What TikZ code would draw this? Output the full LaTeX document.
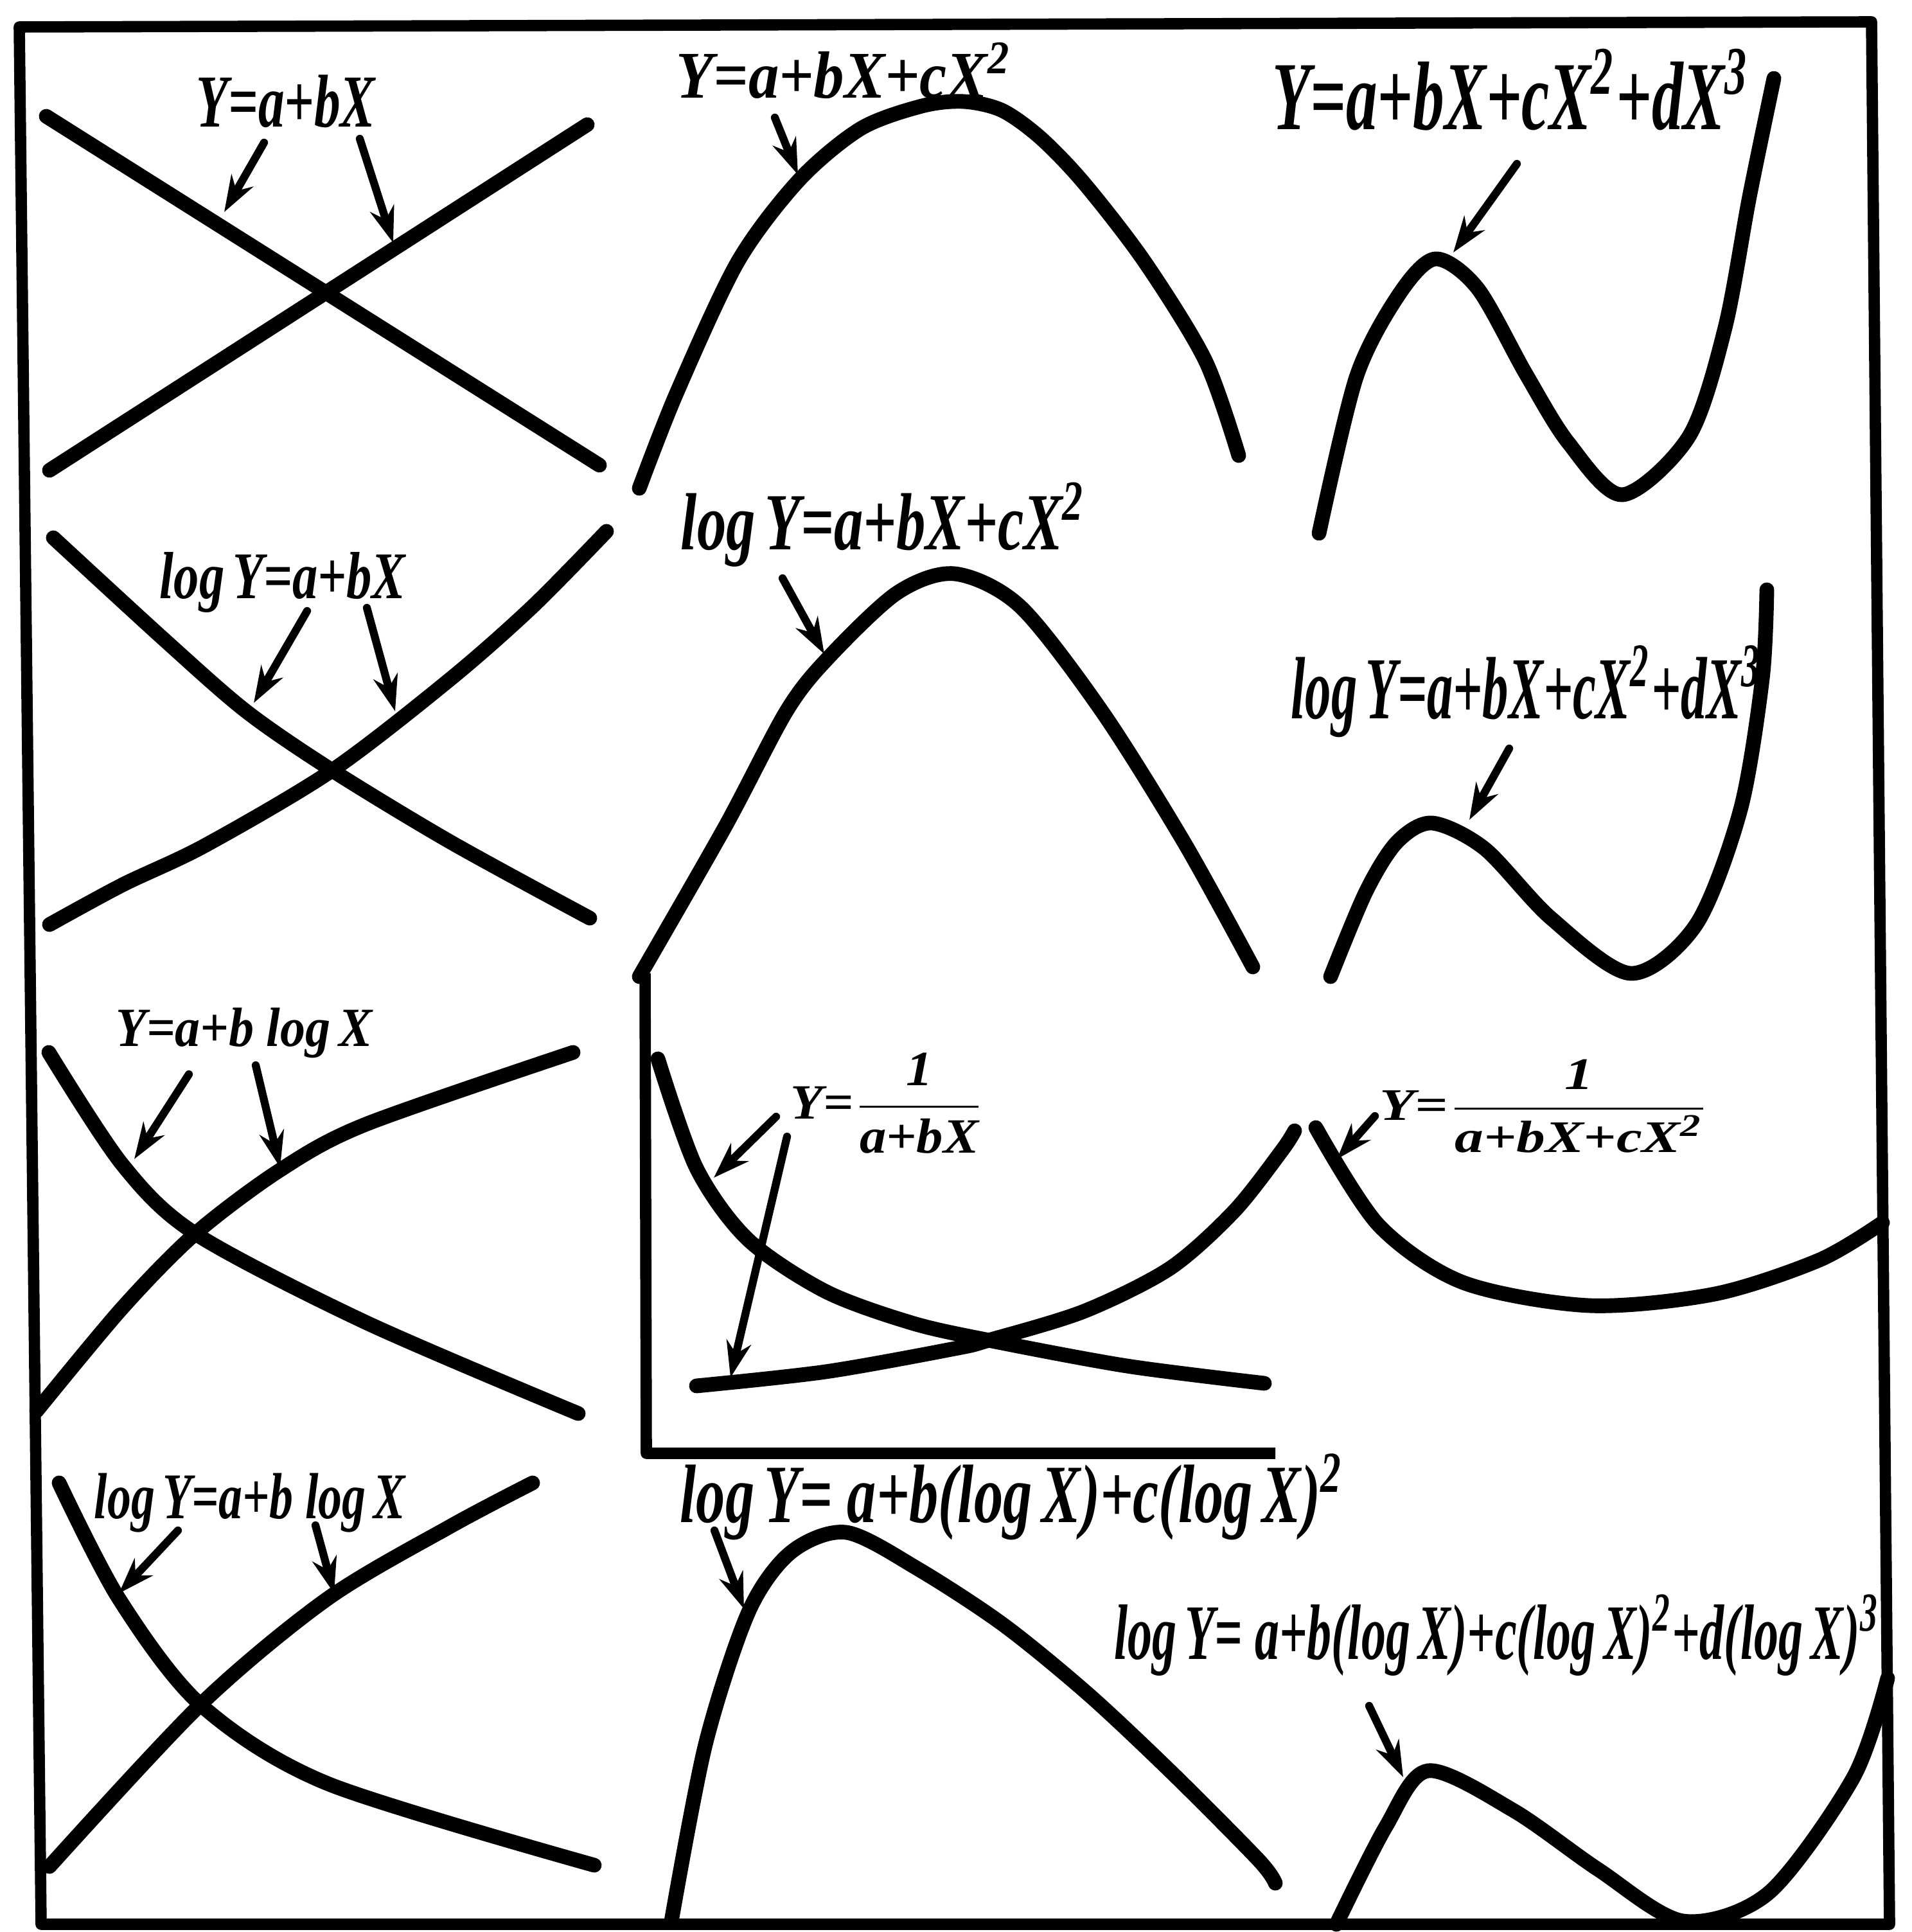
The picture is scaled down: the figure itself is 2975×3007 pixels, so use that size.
\documentclass[tikz,border=0pt]{standalone}
\usepackage{amsmath}
\usepackage{fontspec}
\usepackage{tikz}
\usetikzlibrary{arrows.meta}

\newfontfamily\eqfont{Liberation Serif}
% equation label squeezed to the box it fills in the plate
\newcommand{\eqbox}[3]{\resizebox*{#1}{#2}{\eqfont\bfseries\itshape #3}}
\newcommand{\sq}{\textsuperscript{2}}
\newcommand{\cb}{\textsuperscript{3}}

\begin{document}
\begin{tikzpicture}[
  x=0.01cm, y=-0.01cm,
  frm/.style={line width=5pt, line join=round},
  crv/.style={line width=6.5pt, line cap=round},
  ptr/.style={line width=3.5pt, line cap=round, -{Stealth[length=16pt,width=11pt]}},
  eql/.style={inner sep=0pt, anchor=center},
]
  \useasboundingbox (0,0) rectangle (2975,3007);

  %% plate border and the small axis box of the reciprocal panel
  \draw[frm] (30,42) -- (2913,34) -- (2941,2995) -- (64,2995) -- cycle;
  \draw[frm] (1004,1515) -- (1006,2262) -- (1985,2262);

  %% row 1
  \node[eql] (lin) at (445,158) {\eqbox{2.78cm}{0.82cm}{Y=a+bX}};
  \draw[crv] (72,181) -- (933,724);
  \draw[crv] (77,732) -- (914,194);
  \coordinate (lin_t1) at (411,222);  \coordinate (lin_h1) at (349,330);
  \coordinate (lin_t2) at (560,216);  \coordinate (lin_h2) at (612,378);
  \draw[ptr] (lin_t1) -- (lin_h1);
  \draw[ptr] (lin_t2) -- (lin_h2);

  \node[eql] (quad) at (1314,110) {\eqbox{5.22cm}{0.87cm}{Y=a+bX+cX\sq}};
  \draw[crv] plot[smooth] coordinates {(995,760) (1053,612) (1148,408)
    (1244,280) (1340,200) (1435,165) (1500,158) (1560,172) (1620,215)
    (1688,286) (1782,408) (1876,561) (1928,709)};
  \coordinate (quad_t) at (1206,183);  \coordinate (quad_h) at (1242,272);
  \draw[ptr] (quad_t) -- (quad_h);

  \node[eql] (cub) at (2352,140) {\eqbox{7.43cm}{1.27cm}{Y=a+bX+cX\sq+dX\cb}};
  \draw[crv] plot[smooth] coordinates {(2053,830) (2111,587) (2177,459)
    (2234,403) (2300,449) (2375,582) (2441,689) (2525,770) (2629,679)
    (2685,510) (2723,306) (2761,122)};
  \coordinate (cub_t) at (2361,255);  \coordinate (cub_h) at (2262,393);
  \draw[ptr] (cub_t) -- (cub_h);

  %% row 2
  \node[eql] (elin) at (440,907) {\eqbox{3.82cm}{0.94cm}{log\,Y=a+bX}};
  \draw[crv] plot[smooth] coordinates {(83,837) (255,995) (383,1107)
    (517,1199) (702,1311) (918,1429)};
  \draw[crv] plot[smooth] coordinates {(77,1439) (191,1377) (319,1316)
    (517,1199) (702,1056) (829,944) (944,827)};
  \coordinate (elin_t1) at (478,951);  \coordinate (elin_h1) at (395,1094);
  \coordinate (elin_t2) at (571,946);  \coordinate (elin_h2) at (615,1107);
  \draw[ptr] (elin_t1) -- (elin_h1);
  \draw[ptr] (elin_t2) -- (elin_h2);

  \node[eql] (equad) at (1375,817) {\eqbox{6.30cm}{1.31cm}{log\,Y=a+bX+cX\sq}};
  \draw[crv] plot[smooth] coordinates {(995,1520) (1129,1286) (1224,1107)
    (1288,1025) (1396,923) (1486,893) (1588,944) (1715,1107) (1843,1311)
    (1950,1505)};
  \coordinate (equad_t) at (1218,900);  \coordinate (equad_h) at (1283,1018);
  \draw[ptr] (equad_t) -- (equad_h);

  \node[eql] (ecub) at (2376,1076) {\eqbox{7.33cm}{1.43cm}{log\,Y=a+bX+cX\sq+dX\cb}};
  \draw[crv] plot[smooth] coordinates {(2071,1520) (2126,1388) (2174,1311)
    (2229,1281) (2311,1321) (2414,1429) (2538,1515) (2640,1439) (2709,1260)
    (2743,1056) (2750,918)};
  \coordinate (ecub_t) at (2349,1165);  \coordinate (ecub_h) at (2287,1276);
  \draw[ptr] (ecub_t) -- (ecub_h);

  %% row 3
  \node[eql] (slog) at (380,1608) {\eqbox{3.99cm}{0.78cm}{Y=a+b log\,X}};
  \draw[crv] plot[smooth] coordinates {(76,1638) (190,1812) (304,1920)
    (569,2058) (900,2200)};
  \draw[crv] plot[smooth] coordinates {(57,2196) (190,2036) (304,1920)
    (436,1821) (569,1750) (892,1638)};
  \coordinate (slog_t1) at (294,1672);  \coordinate (slog_h1) at (209,1804);
  \coordinate (slog_t2) at (398,1658);  \coordinate (slog_h2) at (436,1817);
  \draw[ptr] (slog_t1) -- (slog_h1);
  \draw[ptr] (slog_t2) -- (slog_h2);

  \node[eql] (rec) at (1382,1717)
    {\eqbox{3.02cm}{1.56cm}{Y=$\dfrac{\text{1}}{\text{a+bX}}$}};
  \draw[crv] plot[smooth] coordinates {(1024,1648) (1084,1818) (1164,1929)
    (1285,2010) (1419,2059) (1539,2086) (1754,2126) (1968,2153)};
  \draw[crv] plot[smooth] coordinates {(1084,2157) (1285,2135) (1486,2099)
    (1539,2086) (1687,2041) (1821,1974) (1921,1885) (1995,1791) (2015,1760)};
  \coordinate (rec_t1) at (1208,1738);  \coordinate (rec_h1) at (1111,1833);
  \coordinate (rec_t2) at (1225,1769);  \coordinate (rec_h2) at (1137,2144);
  \draw[ptr] (rec_t1) -- (rec_h1);
  \draw[ptr] (rec_t2) -- (rec_h2);

  \node[eql] (rquad) at (2405,1722)
    {\eqbox{5.14cm}{1.45cm}{Y=$\dfrac{\text{1}}{\text{a+bX+cX\sq}}$}};
  \draw[crv] plot[smooth] coordinates {(2048,1755) (2146,1907) (2277,1996)
    (2473,2032) (2669,2014) (2832,1961) (2930,1903)};
  \coordinate (rquad_t) at (2140,1737);  \coordinate (rquad_h) at (2081,1804);
  \draw[ptr] (rquad_t) -- (rquad_h);

  %% row 4
  \node[eql] (llog) at (389,2339) {\eqbox{4.84cm}{0.92cm}{log\,Y=a+b log\,X}};
  \draw[crv] plot[smooth] coordinates {(92,2308) (185,2488) (312,2653)
    (510,2776) (925,2903)};
  \draw[crv] plot[smooth] coordinates {(77,2905) (312,2653) (510,2488)
    (702,2375) (829,2308)};
  \coordinate (llog_t1) at (277,2382);  \coordinate (llog_h1) at (185,2480);
  \coordinate (llog_t2) at (491,2374);  \coordinate (llog_h2) at (520,2480);
  \draw[ptr] (llog_t1) -- (llog_h1);
  \draw[ptr] (llog_t2) -- (llog_h2);

  \node[eql] (lquad) at (1575,2330)
    {\eqbox{10.32cm}{1.34cm}{log\,Y= a+b(log\,X)+c(log\,X)\sq}};
  \draw[crv] plot[smooth] coordinates {(1045,2990) (1098,2715) (1165,2509)
    (1231,2416) (1317,2385) (1429,2442) (1562,2529) (1694,2637) (1826,2761)
    (1959,2895) (1985,2931)};
  \coordinate (lquad_t) at (1112,2382);  \coordinate (lquad_h) at (1158,2504);
  \draw[ptr] (lquad_t) -- (lquad_h);

  \node[eql] (lcub) at (2330,2545)
    {\eqbox{11.90cm}{1.27cm}{log\,Y= a+b(log\,X)+c(log\,X)\sq+d(log\,X)\cb}};
  \draw[crv] plot[smooth] coordinates {(2080,2995) (2157,2843) (2223,2756)
    (2356,2818) (2488,2910) (2620,2990) (2753,2946) (2885,2766) (2938,2612)};
  \coordinate (lcub_t) at (2131,2655);  \coordinate (lcub_h) at (2184,2766);
  \draw[ptr] (lcub_t) -- (lcub_h);
\end{tikzpicture}
\end{document}
